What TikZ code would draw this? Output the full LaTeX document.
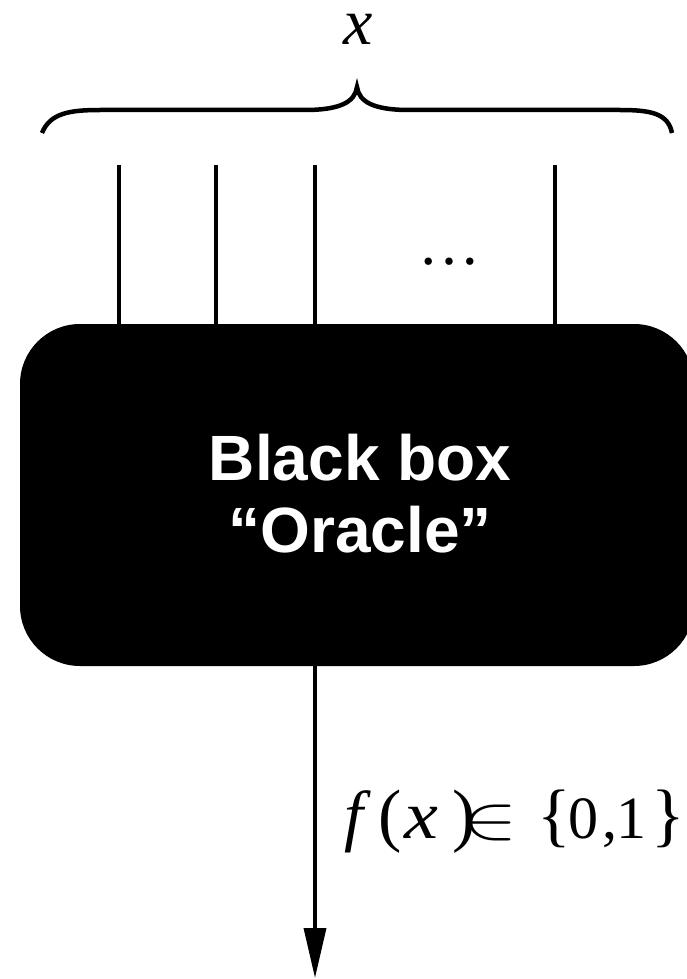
\documentclass[tikz,border=0pt]{standalone}
\usepackage{fontspec}
\setmainfont{Liberation Serif}
\newfontfamily\arialfont{Liberation Sans}
\usetikzlibrary{arrows.meta}
\newcommand\putg[2]{\makebox[0pt][l]{\hspace{#1pt}#2}}
\newcommand\bigit{\fontsize{68}{70}\selectfont\itshape}
\newcommand\bigup{\fontsize{70}{70}\selectfont\upshape}
\newcommand\digup{\fontsize{60}{70}\selectfont\upshape}
\begin{document}
\begin{tikzpicture}[x=1pt,y=1pt,
  wire/.style={line width=3.5pt},
  bracestyle/.style={line width=4.5pt},
  oracle/.style={fill=black, rounded corners=60pt, minimum width=674pt, minimum height=342pt, inner sep=0pt},
  boxtext/.style={text=white, font=\arialfont\bfseries\fontsize{64}{72}\selectfont, anchor=base, inner sep=0pt},
  serif/.style={font=\fontsize{62}{70}\selectfont, inner sep=0pt}]
\useasboundingbox (0,0) rectangle (686,-979);
\node[oracle] (box) at (357,-495) {};
\node[boxtext] (l1) at (360,-480) {Black box};
\node[boxtext] (l2) at (360,-552) {“Oracle”};
\coordinate (w1) at (119,-165);
\coordinate (w2) at (216,-165);
\coordinate (w3) at (315,-165);
\coordinate (w4) at (555,-165);
\foreach \w in {w1,w2,w3,w4} \draw[wire] (\w) -- (\w |- box.north);
\node[serif, anchor=base] (dots) at (449,-264) {…};
\node[inner sep=0pt, anchor=base, font=\fontsize{66}{70}\selectfont\itshape] (xl) at (358,-45) {x};
\draw[bracestyle] (42,-133) .. controls (50,-113) and (70,-110) .. (100,-110) -- (305,-110)
  .. controls (340,-110) and (355,-102) .. (357,-87)
  .. controls (359,-102) and (374,-110) .. (409,-110) -- (620,-110)
  .. controls (650,-110) and (668,-113) .. (672,-133);
\coordinate (out) at (315,-978);
\draw[wire, -{Triangle[length=50pt,width=22pt]}] (out |- box.south) -- (out);
\node[inner sep=0pt, anchor=base west] (fx) at (342,-838)
  {\putg{2}{\bigit f}\putg{36}{\bigup(}\putg{62}{\scalebox{1.12}[1]{\bigit x}}\putg{110}{\bigup)}\putg{120}{\scalebox{8.3}[6.2]{$\in$}}\putg{195}{\bigup\{}\putg{226}{\digup 0}\putg{260}{\digup ,}\putg{274}{\digup 1}\putg{309}{\bigup\}}\hspace{332pt}};
\end{tikzpicture}
\end{document}
